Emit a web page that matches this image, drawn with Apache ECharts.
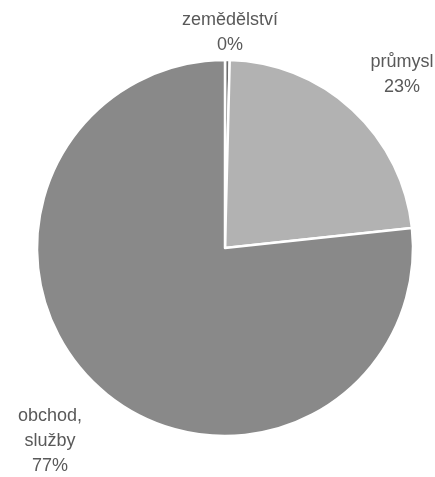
<!DOCTYPE html>
<html><head><meta charset="utf-8">
<script src="https://cdn.jsdelivr.net/npm/echarts@6/dist/echarts.min.js"></script>
<style>html,body{margin:0;padding:0;background:#fff}#c{width:435px;height:477px}</style>
</head><body><div id="c"></div>
<script>
const categories = ['zemědělství', 'průmysl', 'obchod,\nslužby'];
const values = [0.4, 22.9, 76.7];
const percentLabels = ['0%', '23%', '77%'];
const colors = ['#6e6e6e', '#b2b2b2', '#898989'];
const labelPos = [[230, 33], [402, 75], [50, 441]];

const chart = echarts.init(document.getElementById('c'), null, {renderer: 'canvas'});
chart.setOption({
  animation: false,
  series: [{
    type: 'pie',
    center: [225, 248],
    radius: [0, 188],
    startAngle: 90,
    clockwise: true,
    data: categories.map((c, i) => ({name: c, value: values[i], itemStyle: {color: colors[i]}})),
    itemStyle: {borderColor: '#fff', borderWidth: 2.5},
    label: {
      show: true,
      position: 'inside',
      formatter: p => p.name + '\n' + percentLabels[p.dataIndex],
      color: '#595959',
      fontFamily: 'Liberation Sans',
      fontSize: 18,
      lineHeight: 25,
      align: 'center',
      overflow: 'none'
    },
    labelLine: {show: false},
    labelLayout: p => ({x: labelPos[p.dataIndex][0], y: labelPos[p.dataIndex][1], align: 'center', verticalAlign: 'middle'})
  }]
});
</script></body></html>
